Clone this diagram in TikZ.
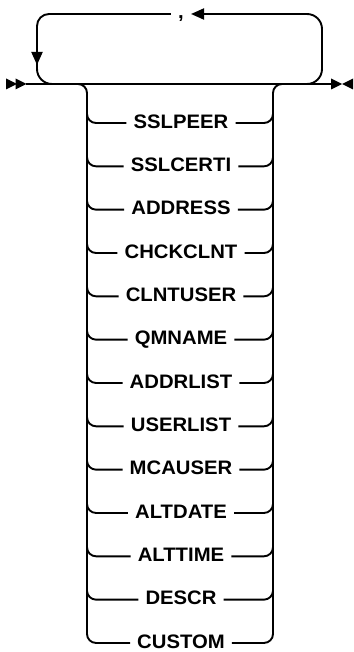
\documentclass[tikz,border=0pt]{standalone}
\usepackage{fontspec}
\setmainfont{Liberation Sans}
\usetikzlibrary{arrows.meta}

\tikzset{
  rail/.style={black,line width=1.9pt},
  railtip/.style={-{Triangle[length=13pt,width=11pt]}},
  keyword/.style={font=\fontsize{19.5}{21}\selectfont\bfseries\addfontfeature{FakeStretch=1.04},
    inner xsep=7pt,inner ysep=0pt,text height=12pt,text depth=1.5pt},
}

\begin{document}
\begin{tikzpicture}[x=1pt,y=-1pt,line join=round]
\useasboundingbox (0,0) rectangle (353,652);
\coordinate (in) at (26,84);
\coordinate (out) at (332,84);
\coordinate (loopTop) at (181,14);
% start and end marks
\fill (6,78.5) -- (17,84) -- (6,89.5) -- cycle;
\fill (15.5,78.5) -- (26.5,84) -- (15.5,89.5) -- cycle;
\fill (331,78.5) -- (342,84) -- (331,89.5) -- cycle;
\fill (353,78.5) -- (342,84) -- (353,89.5) -- cycle;
\draw[rail] (in) -- (out);
% repeat loop
\node[keyword,anchor=base,inner xsep=7pt] (comma) at (181,19) {,};
\draw[rail,railtip,rounded corners=15] (300,84) -| (322,14) -- (comma.east |- loopTop);
\draw[rail,railtip,rounded corners=12] (comma.west |- loopTop) -| (37,65);
\draw[rail,rounded corners=15] (37,58) |- (62,84);
% choices
\draw[rail,rounded corners=9] (70,84) -| (87,110);
\draw[rail,rounded corners=9] (273,110) |- (290,84);
\draw[rail] (87,100) -- (87,624);
\draw[rail] (273,100) -- (273,624);
\foreach \kw [count=\i from 0] in {SSLPEER,SSLCERTI,ADDRESS,CHCKCLNT,CLNTUSER,QMNAME,
    ADDRLIST,USERLIST,MCAUSER,ALTDATE,ALTTIME,DESCR,CUSTOM} {
  \pgfmathsetmacro{\rowy}{123+43.33*\i}
  \node[keyword] (n\i) at (181,\rowy) {\kw};
  \draw[rail,rounded corners=9] (87,\rowy-20) |- (n\i.west);
  \draw[rail,rounded corners=9] (n\i.east) -| (273,\rowy-20);
}
\end{tikzpicture}
\end{document}
